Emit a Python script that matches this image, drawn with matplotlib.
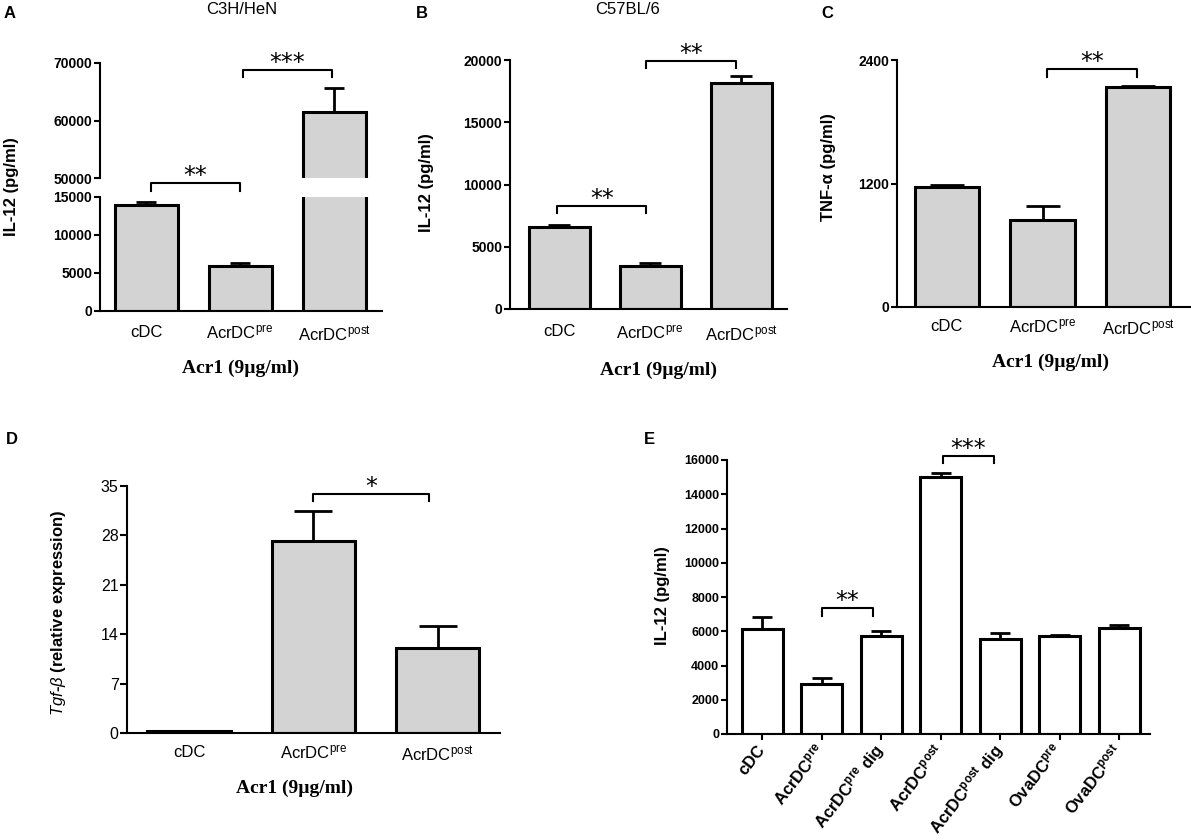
import matplotlib
matplotlib.use('Agg')
import matplotlib.pyplot as plt

plt.rcParams['font.family'] = ['Liberation Sans', 'DejaVu Sans']
plt.rcParams['mathtext.fontset'] = 'custom'
plt.rcParams['mathtext.rm'] = 'Liberation Sans'
plt.rcParams['mathtext.it'] = 'Liberation Sans:italic'
plt.rcParams['mathtext.bf'] = 'Liberation Sans:bold'

# data
groups3 = ['cDC', r'AcrDC$^{\mathrm{pre}}$', r'AcrDC$^{\mathrm{post}}$']
a_mean = [13900, 5900, 61500]
a_err = [400, 400, 4150]
b_mean = [6600, 3450, 18150]
b_err = [120, 280, 540]
c_mean = [1165, 845, 2138]
c_err = [16, 140, 13]
d_mean = [0.3, 27.2, 12.0]
d_err = [0.05, 4.3, 3.2]
e_groups = ['cDC', r'AcrDC$^{\mathbf{pre}}$', r'AcrDC$^{\mathbf{pre}}$ dig',
            r'AcrDC$^{\mathbf{post}}$', r'AcrDC$^{\mathbf{post}}$ dig',
            r'OvaDC$^{\mathbf{pre}}$', r'OvaDC$^{\mathbf{post}}$']
e_mean = [6110, 2920, 5720, 15030, 5530, 5700, 6190]
e_err = [735, 350, 275, 195, 385, 60, 175]

W, H = 1191, 840
GREY = '#d3d3d3'


def fx(x):
    return x / W


def fy(y):
    return 1 - y / H


def box(x0, y0, x1, y1):
    # pixel box (top-left origin) -> figure rect
    return [fx(x0), fy(y1), (x1 - x0) / W, (y1 - y0) / H]


def style(ax, tick_size, tick_bold=True):
    for s in ['top', 'right']:
        ax.spines[s].set_visible(False)
    for s in ['left', 'bottom']:
        ax.spines[s].set_linewidth(1.5)
    ax.tick_params(axis='y', direction='out', length=4.5, width=1.5, pad=1, labelsize=tick_size)
    for lab in ax.get_yticklabels():
        lab.set_fontweight('bold' if tick_bold else 'normal')


def draw_bars(ax, means, errs, face, capsize, width=0.67):
    x = list(range(len(means)))
    ax.bar(x, means, width=width, color=face, edgecolor='black', linewidth=2.2, zorder=2)
    ax.errorbar(x, means, yerr=[[0] * len(errs), errs], fmt='none', ecolor='black',
                elinewidth=2, capsize=capsize, capthick=2, zorder=3)


def bracket(ax, x1, x2, y, drop, stars):
    ax.plot([x1, x1, x2, x2], [y - drop, y, y, y - drop], color='black', lw=1.5,
            clip_on=False, zorder=4)
    ax.annotate(stars, xy=((x1 + x2) / 2, y), xytext=(0, 0), textcoords='offset points',
                ha='center', va='baseline', fontsize=17, family='DejaVu Sans',
                annotation_clip=False, zorder=5)


def xlabels3(ax, pad):
    ax.set_xticks(range(3))
    ax.set_xticklabels(groups3, fontsize=12)
    ax.tick_params(axis='x', length=0, pad=pad)


fig = plt.figure(figsize=(W / 100, H / 100), dpi=100)

# ---- A : broken axis ----
axA_hi = fig.add_axes(box(100, 63, 382, 178))
axA_lo = fig.add_axes(box(100, 197, 382, 311))
axA_hi.patch.set_alpha(0)
axA_lo.patch.set_alpha(0)
for ax in (axA_lo, axA_hi):
    draw_bars(ax, a_mean, a_err, GREY, 7)
    ax.set_xlim(-0.49, 2.51)
axA_lo.set_ylim(0, 15000)
axA_lo.set_yticks([0, 5000, 10000, 15000])
axA_hi.set_ylim(50000, 70000)
axA_hi.set_yticks([50000, 60000, 70000])
style(axA_lo, 10)
style(axA_hi, 10)
axA_hi.spines['bottom'].set_visible(False)
axA_hi.set_xticks([])
xlabels3(axA_lo, 10)
bracket(axA_lo, 0.05, 1.0, 16850, 1050, '**')
bracket(axA_hi, 1.03, 1.98, 68780, 1200, '***')

# ---- B ----
axB = fig.add_axes(box(510, 60, 787, 309))
draw_bars(axB, b_mean, b_err, GREY, 8)
axB.set_xlim(-0.54, 2.505)
axB.set_ylim(0, 20000)
axB.set_yticks([0, 5000, 10000, 15000, 20000])
style(axB, 10)
xlabels3(axB, 11)
bracket(axB, -0.02, 0.96, 8270, 560, '**')
bracket(axB, 0.96, 1.94, 19920, 560, '**')

# ---- C ----
axC = fig.add_axes(box(897, 60, 1190, 307))
draw_bars(axC, c_mean, c_err, GREY, 12)
axC.set_xlim(-0.52, 2.54)
axC.set_ylim(0, 2400)
axC.set_yticks([0, 1200, 2400])
style(axC, 10)
xlabels3(axC, 8.5)
bracket(axC, 1.05, 1.99, 2313, 78, '**')

# ---- D ----
axD = fig.add_axes(box(127, 486, 500, 733))
draw_bars(axD, d_mean, d_err, GREY, 14)
axD.set_xlim(-0.498, 2.5)
axD.set_ylim(0, 35)
axD.set_yticks([0, 7, 14, 21, 28, 35])
style(axD, 11.5, tick_bold=False)
axD.tick_params(axis='y', length=5)
xlabels3(axD, 8.5)
bracket(axD, 1.0, 1.93, 33.87, 1.0, '*')

# ---- E ----
axE = fig.add_axes(box(727, 460, 1150, 734))
draw_bars(axE, e_mean, e_err, 'white', 7.5, width=0.69)
axE.set_xlim(-0.593, 6.52)
axE.set_ylim(0, 16000)
axE.set_yticks(range(0, 16001, 2000))
style(axE, 9)
axE.set_xticks(range(len(e_groups)))
axE.set_xticklabels(e_groups, fontsize=12, fontweight='bold', rotation=52,
                    ha='right', va='center', rotation_mode='anchor')
axE.tick_params(axis='x', direction='out', length=4.5, width=1.5, pad=5)
bracket(axE, 1.0, 1.87, 7375, 485, '**')
bracket(axE, 3.04, 3.89, 16234, 430, '***')

# ---- texts ----
for letter, x, y in [('A', 10, 14), ('B', 422, 13), ('C', 827, 13), ('D', 12, 440), ('E', 649, 440)]:
    fig.text(fx(x), fy(y), letter, fontsize=12, fontweight='bold', ha='center', va='center')

fig.text(fx(242), fy(10), 'C3H/HeN', fontsize=12, ha='center', va='center')
fig.text(fx(627), fy(10), 'C57BL/6', fontsize=12, ha='center', va='center')

ylabs = [('IL-12 (pg/ml)', 12, 187), ('IL-12 (pg/ml)', 427, 183), ('TNF-α (pg/ml)', 828, 167),
         (r'$\mathit{Tgf}$-$\mathit{\beta}$ (relative expression)', 58, 613),
         ('IL-12 (pg/ml)', 663, 596)]
for txt, x, y in ylabs:
    fig.text(fx(x), fy(y), txt, rotation=90, fontsize=12, fontweight='bold', ha='center', va='center')

for x, y in [(240, 368), (659, 370), (1050, 362), (295, 788)]:
    fig.text(fx(x), fy(y), 'Acr1 (9µg/ml)', family='Liberation Serif', fontweight='bold',
             fontsize=14, ha='center', va='center')

fig.savefig('out.png', dpi=100)
